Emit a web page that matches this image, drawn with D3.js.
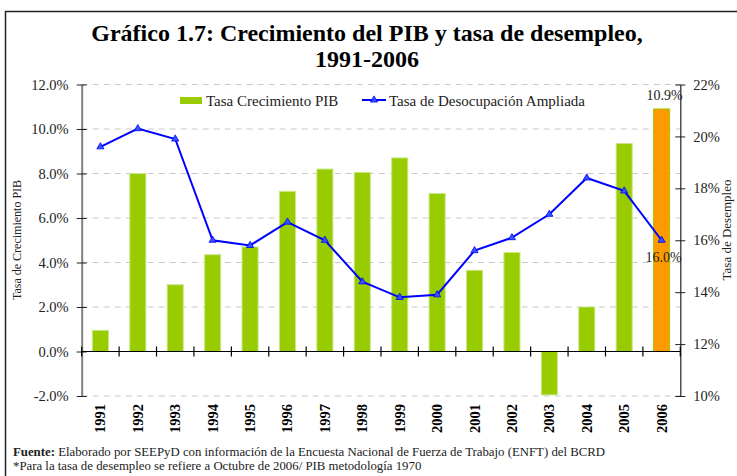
<!DOCTYPE html>
<html><head><meta charset="utf-8">
<script src="https://cdn.jsdelivr.net/npm/d3@7"></script>
<style>body{margin:0;background:#fff}svg{display:block}text{font-family:"Liberation Serif","Times New Roman",serif}</style>
</head><body><svg id="c" width="737" height="476"></svg>
<script>
const years = ["1991","1992","1993","1994","1995","1996","1997","1998","1999","2000","2001","2002","2003","2004","2005","2006"];
const pib = [0.95,8.0,3.0,4.35,4.7,7.2,8.2,8.05,8.7,7.1,3.65,4.45,-1.95,2.0,9.35,10.9];
const desempleo = [19.6,20.3,19.9,16.0,15.8,16.7,16.0,14.4,13.8,13.9,15.6,16.1,17.0,18.4,17.9,16.0];
const leftTicks = [-2,0,2,4,6,8,10,12];
const rightTicks = [10,12,14,16,18,20,22];

const svg = d3.select("#c");
const L = 81.7, R = 680.3, T = 84.5, B = 396;
const x = d3.scaleBand().domain(years).range([L, R]).paddingInner(0).paddingOuter(0);
const yL = d3.scaleLinear().domain([-2, 12]).range([B, T]);
const yR = d3.scaleLinear().domain([10, 22]).range([B, T]);

// frame
svg.append("rect").attr("x",5.5).attr("y",11.5).attr("width",740).attr("height",480)
  .attr("fill","none").attr("stroke","#222").attr("stroke-width",1.5);

// title
svg.append("text").attr("x",367).attr("y",41).attr("text-anchor","middle")
  .attr("font-size",24).attr("font-weight","bold").text("Gráfico 1.7: Crecimiento del PIB y tasa de desempleo,");
svg.append("text").attr("x",367).attr("y",67).attr("text-anchor","middle")
  .attr("font-size",24).attr("font-weight","bold").text("1991-2006");

// gridlines
svg.append("g").selectAll("line").data(leftTicks).join("line")
  .attr("x1",L).attr("x2",R).attr("y1",d=>yL(d)).attr("y2",d=>yL(d))
  .attr("stroke","#c8c8c8").attr("stroke-width",1).attr("stroke-dasharray","6,5");

// bars
svg.append("g").selectAll("rect").data(pib).join("rect")
  .attr("x",(d,i)=>x(years[i]) + x.bandwidth()*0.285)
  .attr("width",x.bandwidth()*0.43)
  .attr("y",d=>yL(Math.max(0,d)))
  .attr("height",d=>Math.abs(yL(d)-yL(0)))
  .attr("fill",(d,i)=>i===years.length-1?"#FF9900":"#99CC00")
  .attr("stroke",(d,i)=>i===years.length-1?"#99CC00":"#c8e88a").attr("stroke-width",1);

// left axis
const gL = svg.append("g").attr("transform",`translate(${L},0)`)
  .call(d3.axisLeft(yL).tickValues(leftTicks).tickFormat(d=>d.toFixed(1)+"%").tickSizeInner(5).tickSizeOuter(0).tickPadding(8));
gL.select(".domain").attr("stroke","#808080").attr("stroke-width",2);
gL.selectAll(".tick line").attr("x2",-5).attr("x1",5).attr("stroke","#222");
gL.selectAll(".tick text").attr("font-size",14.5).attr("fill","#222");

// right axis
const gR = svg.append("g").attr("transform",`translate(${R},0)`)
  .call(d3.axisRight(yR).tickValues(rightTicks).tickFormat(d=>d+"%").tickSizeInner(5).tickSizeOuter(0).tickPadding(8));
gR.select(".domain").attr("stroke","#222").attr("stroke-width",1.2);
gR.selectAll(".tick line").attr("x1",-5).attr("x2",5).attr("stroke","#222");
gR.selectAll(".tick text").attr("font-size",14.5).attr("fill","#222");

// x axis at 0
const y0 = yL(0);
svg.append("line").attr("x1",L).attr("x2",R).attr("y1",y0).attr("y2",y0).attr("stroke","#000").attr("stroke-width",1.2);
const bounds = years.map(y=>x(y)).concat([R]);
svg.append("g").selectAll("line").data(bounds).join("line")
  .attr("x1",d=>d).attr("x2",d=>d).attr("y1",y0-5).attr("y2",y0+5).attr("stroke","#000").attr("stroke-width",1.2);

// x labels
svg.append("g").selectAll("text").data(years).join("text")
  .attr("transform",d=>`translate(${x(d)+x.bandwidth()/2+5},404) rotate(-90)`)
  .attr("text-anchor","end").attr("font-size",14.5).attr("font-weight","bold").text(d=>d);

// line
const line = d3.line().x((d,i)=>x(years[i])+x.bandwidth()/2).y(d=>yR(d));
svg.append("path").datum(desempleo).attr("d",line).attr("fill","none").attr("stroke","#0000FF").attr("stroke-width",2);
const tri = d3.symbol().type(d3.symbolTriangle).size(22);
svg.append("g").selectAll("path").data(desempleo).join("path")
  .attr("transform",(d,i)=>`translate(${x(years[i])+x.bandwidth()/2},${yR(d)})`)
  .attr("d",tri).attr("fill","#3355ff").attr("stroke","#0000FF").attr("stroke-width",0.8);

// annotations
const last = years.length-1;
svg.append("text").attr("x",x(years[last])+x.bandwidth()/2+3).attr("y",yL(pib[last])-9)
  .attr("text-anchor","middle").attr("font-size",14).attr("fill","#222").text(pib[last].toFixed(1)+"%");
svg.append("text").attr("x",x(years[last])+x.bandwidth()/2+2).attr("y",yR(desempleo[last])+22)
  .attr("text-anchor","middle").attr("font-size",14).attr("fill","#222").text(desempleo[last].toFixed(1)+"%");

// axis titles
svg.append("text").attr("transform","translate(21,240) rotate(-90)").attr("text-anchor","middle")
  .attr("font-size",12).attr("fill","#222").text("Tasa de Crecimiento PIB");
svg.append("text").attr("transform","translate(731,230) rotate(-90)").attr("text-anchor","middle")
  .attr("font-size",13).attr("fill","#222").text("Tasa de Desempleo");

// legend
svg.append("rect").attr("x",180).attr("y",97).attr("width",22).attr("height",7).attr("fill","#99CC00");
svg.append("text").attr("x",206).attr("y",106).attr("font-size",15).attr("fill","#222").text("Tasa Crecimiento PIB");
svg.append("line").attr("x1",362).attr("x2",386).attr("y1",100).attr("y2",100).attr("stroke","#0000FF").attr("stroke-width",2);
svg.append("path").attr("transform","translate(374,100)").attr("d",tri).attr("fill","#3355ff").attr("stroke","#0000FF").attr("stroke-width",0.8);
svg.append("text").attr("x",389).attr("y",106).attr("font-size",15).attr("fill","#222").text("Tasa de Desocupación Ampliada");

// footer
const f1 = svg.append("text").attr("x",13).attr("y",456).attr("font-size",12.8).attr("fill","#222");
f1.append("tspan").attr("font-weight","bold").text("Fuente:");
f1.append("tspan").text(" Elaborado por SEEPyD con información de la Encuesta Nacional de Fuerza de Trabajo (ENFT) del BCRD");
svg.append("text").attr("x",13).attr("y",470).attr("font-size",12.8).attr("fill","#222")
  .text("*Para la tasa de desempleo se refiere a Octubre de 2006/ PIB metodología 1970");
</script></body></html>
